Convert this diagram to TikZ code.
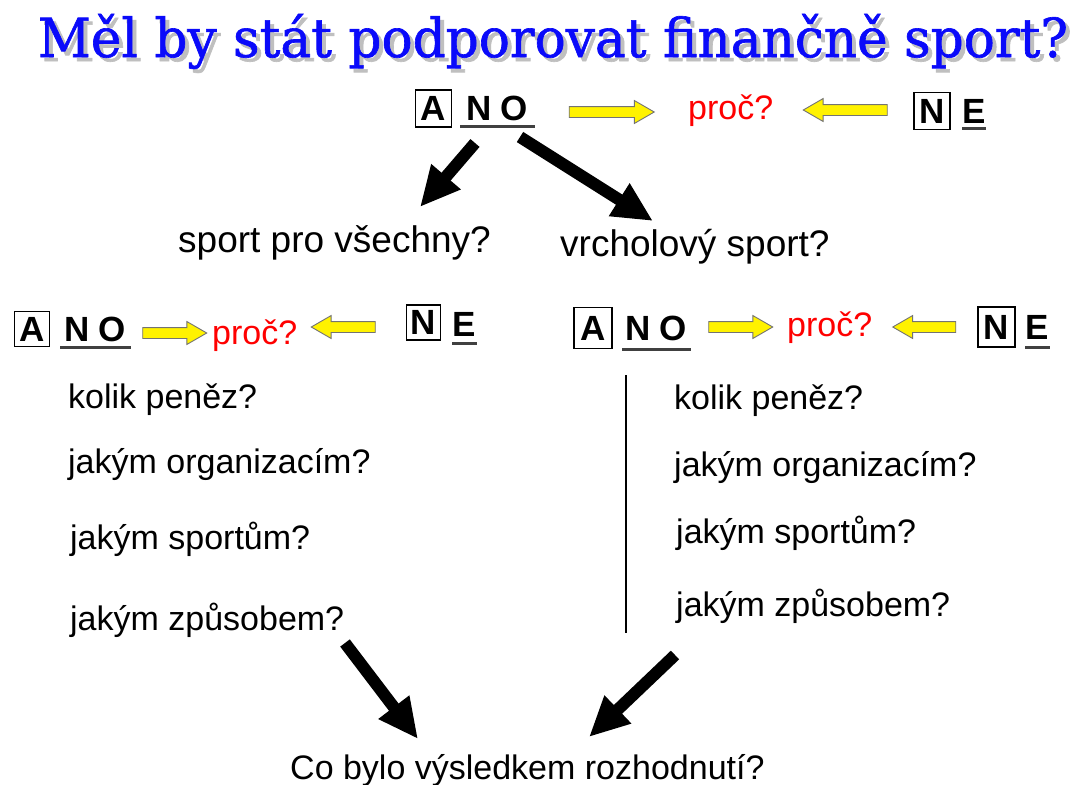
\documentclass[tikz,border=0pt]{standalone}
\usepackage{fontspec}
\setmainfont{Liberation Sans}
\newfontfamily\titlefont[FakeBold=1.2]{DejaVu Serif}
\usetikzlibrary{shapes.arrows,arrows.meta}
\definecolor{titleblue}{RGB}{10,10,250}
\definecolor{proored}{RGB}{255,0,0}
\begin{document}
\begin{tikzpicture}[x=1pt,y=-1pt,
  txt/.style={font=\fontsize{34}{40}\selectfont, inner sep=0pt, anchor=base west},
  midtxt/.style={font=\fontsize{37}{42}\selectfont, inner sep=0pt, anchor=base west},
  proc/.style={font=\fontsize{34}{40}\selectfont, inner sep=0pt, anchor=base west, text=proored},
  letterbox/.style={draw, line width=1.5pt, font=\fontsize{35}{40}\selectfont\bfseries, inner sep=0pt, minimum width=36pt, minimum height=37pt},
  bold/.style={font=\fontsize{35}{40}\selectfont\bfseries, inner sep=0pt},
  uline/.style={line width=3pt, draw=black!75},
  yarrow/.style={single arrow, draw=black!55, fill=yellow, line width=0.9pt, inner xsep=0pt, inner ysep=5pt, single arrow head extend=6pt, single arrow tip angle=60},
  bigarrow/.style={line width=12pt, -{Triangle[length=40pt,width=36pt]}},
  divider/.style={line width=2.5pt}
]
\useasboundingbox (0,0) rectangle (1080,785);
\fill[white] (0,0) rectangle (1080,785);

% title
\node[anchor=base, inner sep=0pt, text=black!25] (titleshadow) at (557,61)
  {\resizebox{1030pt}{43pt}{\titlefont Měl by stát podporovat finančně sport?}};
\node[anchor=base, inner sep=0pt, text=titleblue] (title) at (553,57)
  {\resizebox{1030pt}{43pt}{\titlefont Měl by stát podporovat finančně sport?}};

% top row
\node[letterbox] (a1) at (433.5,108.5) {A};
\node[bold] (no1) at (497,108) {N\kern9pt O};
\draw[uline] (460,126) -- (535,126);
\node[proc] (p1) at (688,119) {proč?};
\node[letterbox] (n1) at (932,111) {N};
\node[bold] (e1) at (974,111) {E};
\draw[uline] (962,128) -- (986,128);
\node[yarrow, minimum height=85pt] (ya1) at (607,112) {};
\node[yarrow, minimum height=84pt, shape border rotate=180] (yb1) at (850,110) {};

% black arrows from top
\coordinate (s1) at (475,143);
\coordinate (e1a) at (420,207);
\coordinate (s2) at (520,137);
\coordinate (e2a) at (653,221);
\draw[bigarrow] (s1) -- (e1a);
\draw[bigarrow] (s2) -- (e2a);

\node[midtxt] (spv) at (178,252) {sport pro všechny?};
\node[midtxt] (vrs) at (560,256) {vrcholový sport?};

% second row left
\node[letterbox, minimum width=35pt, minimum height=35pt] (a2) at (32,329) {A};
\node[bold] (no2) at (95,329) {N\kern9pt O};
\draw[uline] (60,347) -- (131,347);
\node[yarrow, minimum height=64pt] (ya2) at (170,333) {};
\node[proc] (p2) at (212,344) {proč?};
\node[yarrow, minimum height=64pt, shape border rotate=180] (yb2) at (348,327) {};
\node[letterbox, minimum width=34pt, minimum height=35pt] (n2) at (423.5,322.5) {N};
\node[bold] (e2) at (464,324) {E};
\draw[uline] (452,343) -- (477,343);

% second row right
\node[letterbox, minimum width=38pt, minimum height=41pt] (a3) at (593,328) {A};
\node[bold] (no3) at (656,328) {N\kern9pt O};
\draw[uline] (622,349) -- (691,349);
\node[yarrow, minimum height=64pt] (ya3) at (736,327) {};
\node[proc] (p3) at (787,336) {proč?};
\node[yarrow, minimum height=63pt, shape border rotate=180] (yb3) at (929,327) {};
\node[letterbox, minimum width=37pt, minimum height=40pt] (n3) at (996.5,327) {N};
\node[bold] (e3) at (1037.5,327) {E};
\draw[uline] (1025,347) -- (1050,347);

% lists
\node[txt] (l1) at (68,408) {kolik peněz?};
\node[txt] (l2) at (68,473) {jakým organizacím?};
\node[txt] (l3) at (70,549) {jakým sportům?};
\node[txt] (l4) at (70,630) {jakým způsobem?};

\node[txt] (r1) at (674,409) {kolik peněz?};
\node[txt] (r2) at (674,476) {jakým organizacím?};
\node[txt] (r3) at (676,543) {jakým sportům?};
\node[txt] (r4) at (676,616) {jakým způsobem?};

\coordinate (dtop) at (626,375);
\coordinate (dbot) at (626,633);
\draw[divider] (dtop) -- (dbot);

% bottom arrows
\coordinate (s3) at (345,643);
\coordinate (e3a) at (418,739);
\coordinate (s4) at (675,655);
\coordinate (e4a) at (589,737);
\draw[bigarrow] (s3) -- (e3a);
\draw[bigarrow] (s4) -- (e4a);

\node[txt] (res) at (290,779) {Co bylo výsledkem rozhodnutí?};
\end{tikzpicture}
\end{document}
